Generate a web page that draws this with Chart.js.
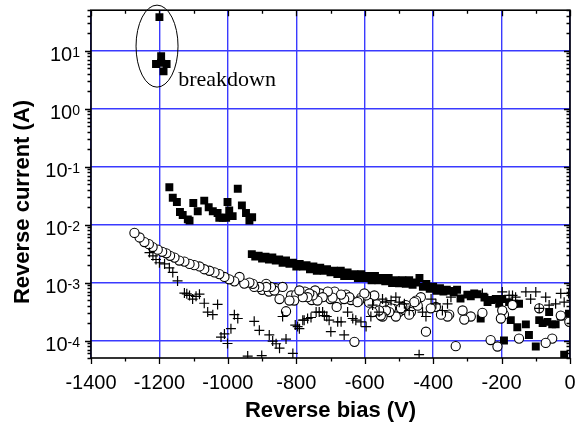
<!DOCTYPE html>
<html>
<head>
<meta charset="utf-8">
<script src="https://cdn.jsdelivr.net/npm/chart.js@4.4.1/dist/chart.umd.min.js"></script>
<style>
  html, body { margin: 0; padding: 0; background: #fff; }
</style>
</head>
<body>
<canvas id="ivChart" width="577" height="430"></canvas>
<script>
// ---- data (bias in V, current in A) ----
const squareBias = [
  -1200, -1195, -1210, -1179, -1195, -1188,
  -1171, -1161, -1149, -1140, -1132, -1117, -1112, -1101, -1088, -1069, -1056, -1044, -1030, -1025,
  -1015, -1005, -1001, -996, -986, -971, -959, -947, -937, -929,
  -930, -920, -910, -900, -890, -880, -870, -860, -850, -840, -830, -820, -810, -800, -790, -780,
  -770, -760, -750, -740, -730, -720, -710, -700, -690, -680, -670, -660, -650, -640, -630, -620,
  -610, -600, -590, -580, -570, -560, -550, -540, -530, -520, -510, -500, -490, -480, -470, -460,
  -450, -440, -430, -420, -410, -400, -390, -380, -370, -360, -350, -340, -330, -320, -300, -290,
  -280, -270, -261, -250, -241, -230, -217, -207, -198, -193, -178, -173, -163, -154, -149, -129,
  -120, -100, -90, -80, -66, -61, -52, -42, -27, -17, -3
];
const squareCurrent = [
  38, 8.0, 5.9, 5.9, 6.2, 4.4,
  0.044, 0.029, 0.0245, 0.0165, 0.0147, 0.0123, 0.0117, 0.0236, 0.017, 0.0259, 0.0199, 0.017, 0.0159, 0.0131,
  0.0131, 0.0131, 0.0245, 0.0175, 0.014, 0.0415, 0.0215, 0.0159, 0.0118, 0.0134,
  0.0031, 0.0028, 0.0029, 0.0026, 0.0028, 0.0025, 0.0027, 0.0024, 0.0025, 0.0022, 0.0024, 0.0021, 0.0022, 0.0019, 0.0021, 0.0019,
  0.0020, 0.0017, 0.0019, 0.0016, 0.0018, 0.0016, 0.0017, 0.0015, 0.0016, 0.0014, 0.0016, 0.0013, 0.0015, 0.0013, 0.0014, 0.0012,
  0.0014, 0.0012, 0.0013, 0.0011, 0.0013, 0.0011, 0.0012, 0.00105, 0.0012, 0.00098, 0.0011, 0.00097, 0.0011, 0.00095, 0.0011, 0.00092,
  0.0010, 0.0012, 0.00085, 0.00095, 0.00078, 0.00085, 0.00072, 0.00080, 0.00070, 0.00075, 0.00072, 0.00068, 0.00075, 0.00053, 0.00062, 0.00058,
  0.00065, 0.00063, 0.00024, 0.00055, 0.00046, 0.00050, 0.00052, 0.00043, 0.00052, 0.00010, 0.00046, 0.000225, 0.00043, 0.00017, 0.00043, 0.00019,
  0.000125, 0.000079, 0.000225, 0.00020, 0.00021, 0.00031, 0.00019, 0.00019, 0.00026, 0.000057, 0.00029
];

const circleBias = [
  -900, -880, -860, -815, -800, -775, -755, -730, -715, -700, -688, -675, -655, -640, -610, -592,
  -565, -543, -515, -500, -485, -445,
  -2, -27, -52, -71, -90, -149, -168, -193, -198, -202, -212, -232, -256, -290, -309, -314, -334, -353,
  -358, -377, -392, -407, -421, -436, -450, -455, -465, -470, -480, -490, -494, -509, -523, -528, -538,
  -548, -553, -558, -572, -577, -587, -596, -601, -616, -621, -630, -645, -660, -669, -682, -694, -708,
  -723, -738, -745, -752, -762, -767, -781, -791, -806, -820, -830, -840, -849, -864, -874, -888, -888,
  -908, -923, -927, -937, -952, -966, -981, -996, -1010, -1025, -1039, -1054, -1069, -1083, -1098, -1112,
  -1127, -1142, -1156, -1169, -1180, -1192, -1205, -1220, -1231, -1244, -1258, -1273
];
const circleCurrent = [
  0.00075, 0.00070, 0.00080, 0.0006, 0.00062, 0.00070, 0.00050, 0.00065, 0.00058, 0.00052, 0.00070, 0.00050, 0.00062, 0.00050, 0.00055, 0.00052,
  0.00042, 0.00040, 0.00035, 0.00031, 0.00034, 0.00040,
  0.00021, 0.00027, 0.000108, 0.000091, 0.00036, 0.000108, 0.00041, 0.00028, 0.00033, 0.00024, 0.000079, 0.000102, 0.00030, 0.00026, 0.00023, 0.00033, 0.00008, 0.00028,
  0.00026, 0.00028, 0.00038, 0.00036, 0.000142, 0.00056, 0.00049, 0.00046, 0.00031, 0.00028, 0.00041, 0.00038, 0.00036, 0.00026, 0.00036, 0.00031, 0.00033,
  0.00026, 0.00027, 0.00033, 0.0006, 0.00031, 0.00045, 0.0006, 0.00065, 0.00049, 0.00046, 0.000095, 0.00056, 0.00052, 0.00062, 0.00038, 0.00055, 0.0007,
  0.00056, 0.00049, 0.00073, 0.0006, 0.00065, 0.00056, 0.00056, 0.00073, 0.00049, 0.00049, 0.00032, 0.00084, 0.00052, 0.00073, 0.00084, 0.00095, 0.00084,
  0.00084, 0.00084, 0.00095, 0.0010, 0.00096, 0.00125, 0.00105, 0.00114, 0.00125, 0.0014, 0.0015, 0.0016, 0.0017, 0.0019, 0.0020, 0.0021,
  0.0023, 0.0024, 0.0027, 0.0029, 0.0032, 0.0034, 0.0037, 0.0041, 0.0046, 0.005, 0.006, 0.0072
];

const plusBias = [
  -4, -17, -27, -42, -61, -71, -90, -100, -115, -129, -159, -168, -178, -198, -256, -348, -358, -373,
  -392, -406, -421, -431, -441, -470, -484, -499, -509, -523, -538, -548, -558, -577, -582, -596, -611,
  -626, -635, -650, -660, -669, -679, -699, -704, -711, -718, -723, -733, -742, -757, -767, -777, -781, -791,
  -796, -803, -810, -830, -840, -849, -859, -869, -879, -901, -908, -923, -942, -971, -981, -991, -1001,
  -1010, -1020, -1030, -1044, -1059, -1069, -1083, -1093, -1103, -1112, -1120, -1127, -1147, -1161,
  -1171, -1185, -1200, -1210, -1219, -1229
];
const plusCurrent = [
  0.00065, 0.00046, 0.00065, 0.00043, 0.00041, 0.00056, 0.00036, 0.00069, 0.00052, 0.00069, 0.00056, 0.0006, 0.0006, 0.00069, 0.00065, 0.00056, 0.00043, 0.00033,
  0.00043, 0.00052, 0.00026, 0.00031, 0.000057, 0.00033, 0.00043, 0.00046, 0.00056, 0.00049, 0.00046, 0.00052, 0.00031, 0.00041, 0.00026, 0.000174, 0.00021,
  0.000225, 0.00024, 0.00031, 0.000125, 0.00021, 0.00021, 0.000142, 0.000225, 0.00026, 0.00027, 0.00031, 0.00031, 0.00031, 0.00025, 0.00024, 0.000225, 0.000225, 0.00016,
  0.000174, 0.000185, 0.00006, 0.000106, 0.00026, 0.000074, 0.000088, 0.000098, 0.000125, 0.000055, 0.00015, 0.000215, 0.000054, 0.00024, 0.00028, 0.00016, 0.000089,
  0.00013, 0.000115, 0.00042, 0.00028, 0.00031, 0.00044, 0.00063, 0.00058, 0.00052, 0.0006, 0.00064, 0.00066, 0.00107, 0.0015,
  0.0018, 0.0021, 0.0022, 0.0025, 0.0029, 0.0033
];

// axis ticks
const biasTicks = [-1400, -1200, -1000, -800, -600, -400, -200, 0];
const currentDecades = [1e-4, 1e-3, 1e-2, 1e-1, 1e0, 1e1];
const decadeExponents = ["-4", "-3", "-2", "-1", "0", "1"];

// annotation
const breakdownMark = { x: -1207, y: 12 };
const breakdownLabel = { x: -1145, y: 2.5, text: "breakdown" };

const SANS = '"Liberation Sans", Arial, Helvetica, sans-serif';
const SERIF = '"Liberation Serif", "Times New Roman", serif';
const GRID_BLUE = "#3a3aff";

const toPoints = (xs, ys) => xs.map((x, i) => ({ x: x, y: ys[i] }));

/* -------- frame, minor ticks, log labels, annotation -------- */
const decorPlugin = {
  id: "decor",
  afterDraw(chart) {
    const { ctx, chartArea: a, scales } = chart;
    const xs = scales.x, ys = scales.y;
    ctx.save();
    ctx.strokeStyle = "#000";
    ctx.lineWidth = 1.6;
    ctx.strokeRect(a.left, a.top, a.right - a.left, a.bottom - a.top);

    // x ticks every 100 V: out at bottom, in at top
    ctx.lineWidth = 1.3;
    ctx.beginPath();
    for (let v = -1400; v <= 0; v += 100) {
      const px = Math.round(xs.getPixelForValue(v)) + 0.5;
      const len = v % 200 === 0 ? 6 : 3.5;
      ctx.moveTo(px, a.bottom); ctx.lineTo(px, a.bottom + len);
      ctx.moveTo(px, a.top); ctx.lineTo(px, a.top + len);
    }
    // y minor ticks: out at left, in at right
    for (let d = -5; d <= 1; d++) {
      for (let m = 1; m <= 9; m++) {
        const v = m * Math.pow(10, d);
        if (v < ys.min || v > ys.max) continue;
        const py = Math.round(ys.getPixelForValue(v)) + 0.5;
        const len = m === 1 ? 6 : 3.5;
        ctx.moveTo(a.left, py); ctx.lineTo(a.left - len, py);
        ctx.moveTo(a.right, py); ctx.lineTo(a.right - len, py);
      }
    }
    ctx.stroke();

    // y labels 10^n
    ctx.fillStyle = "#000";
    ctx.textBaseline = "alphabetic";
    currentDecades.forEach((v, i) => {
      const py = ys.getPixelForValue(v);
      ctx.font = "14px " + SANS;
      ctx.textAlign = "right";
      const expW = ctx.measureText(decadeExponents[i]).width;
      ctx.fillText(decadeExponents[i], 80, py + 6);
      ctx.font = "20px " + SANS;
      ctx.fillText("10", 80 - expW, py + 10);
    });

    // y title
    ctx.save();
    ctx.translate(23, 202);
    ctx.rotate(-Math.PI / 2);
    ctx.font = "bold 22px " + SANS;
    ctx.textAlign = "center";
    ctx.textBaseline = "middle";
    ctx.fillText("Reverse current (A)", 0, 0);
    ctx.restore();

    // breakdown ellipse + label
    const cx = xs.getPixelForValue(breakdownMark.x);
    const cy = ys.getPixelForValue(breakdownMark.y);
    ctx.lineWidth = 1;
    ctx.beginPath();
    ctx.ellipse(cx, cy, 21, 41, 0, 0, Math.PI * 2);
    ctx.stroke();
    ctx.font = "22px " + SERIF;
    ctx.textAlign = "left";
    ctx.textBaseline = "alphabetic";
    ctx.fillText(breakdownLabel.text, xs.getPixelForValue(breakdownLabel.x), ys.getPixelForValue(breakdownLabel.y));
    ctx.restore();
  }
};

new Chart(document.getElementById("ivChart"), {
  type: "scatter",
  data: {
    datasets: [
      {
        label: "squares",
        data: toPoints(squareBias, squareCurrent),
        pointStyle: "rect",
        pointRadius: 5.6,
        backgroundColor: "#000",
        borderColor: "#000",
        borderWidth: 0,
        order: 3
      },
      {
        label: "circles",
        data: toPoints(circleBias, circleCurrent),
        pointStyle: "circle",
        pointRadius: 4.6,
        backgroundColor: "#fff",
        borderColor: "#000",
        borderWidth: 1.1,
        order: 2
      },
      {
        label: "plus",
        data: toPoints(plusBias, plusCurrent),
        pointStyle: "cross",
        pointRadius: 5,
        borderColor: "#000",
        borderWidth: 1.2,
        order: 1
      }
    ]
  },
  options: {
    responsive: false,
    animation: false,
    events: [],
    layout: { padding: { top: 7, right: 7, left: 0, bottom: 0 } },
    plugins: { legend: { display: false }, tooltip: { enabled: false } },
    scales: {
      x: {
        type: "linear",
        min: -1400,
        max: 0,
        afterBuildTicks: s => { s.ticks = biasTicks.map(v => ({ value: v })); },
        afterFit: s => { s.height = 72; },
        grid: { color: GRID_BLUE, lineWidth: 1.4, drawTicks: true, tickLength: 13, tickColor: "rgba(0,0,0,0)" },
        border: { display: false },
        ticks: {
          color: "#000",
          font: { family: SANS, size: 20 },
          padding: 0,
          maxRotation: 0,
          autoSkip: false,
          callback: v => String(v)
        },
        title: {
          display: true,
          text: "Reverse bias (V)",
          color: "#000",
          font: { family: SANS, size: 22, weight: "bold" },
          padding: { top: 0, bottom: 6 }
        }
      },
      y: {
        type: "logarithmic",
        min: 5e-5,
        max: 50,
        afterBuildTicks: s => { s.ticks = currentDecades.map(v => ({ value: v })); },
        afterFit: s => { s.width = 91; },
        grid: { color: GRID_BLUE, lineWidth: 1.4, drawTicks: false },
        border: { display: false },
        ticks: { autoSkip: false, callback: () => "" }
      }
    }
  },
  plugins: [decorPlugin]
});
</script>
</body>
</html>
